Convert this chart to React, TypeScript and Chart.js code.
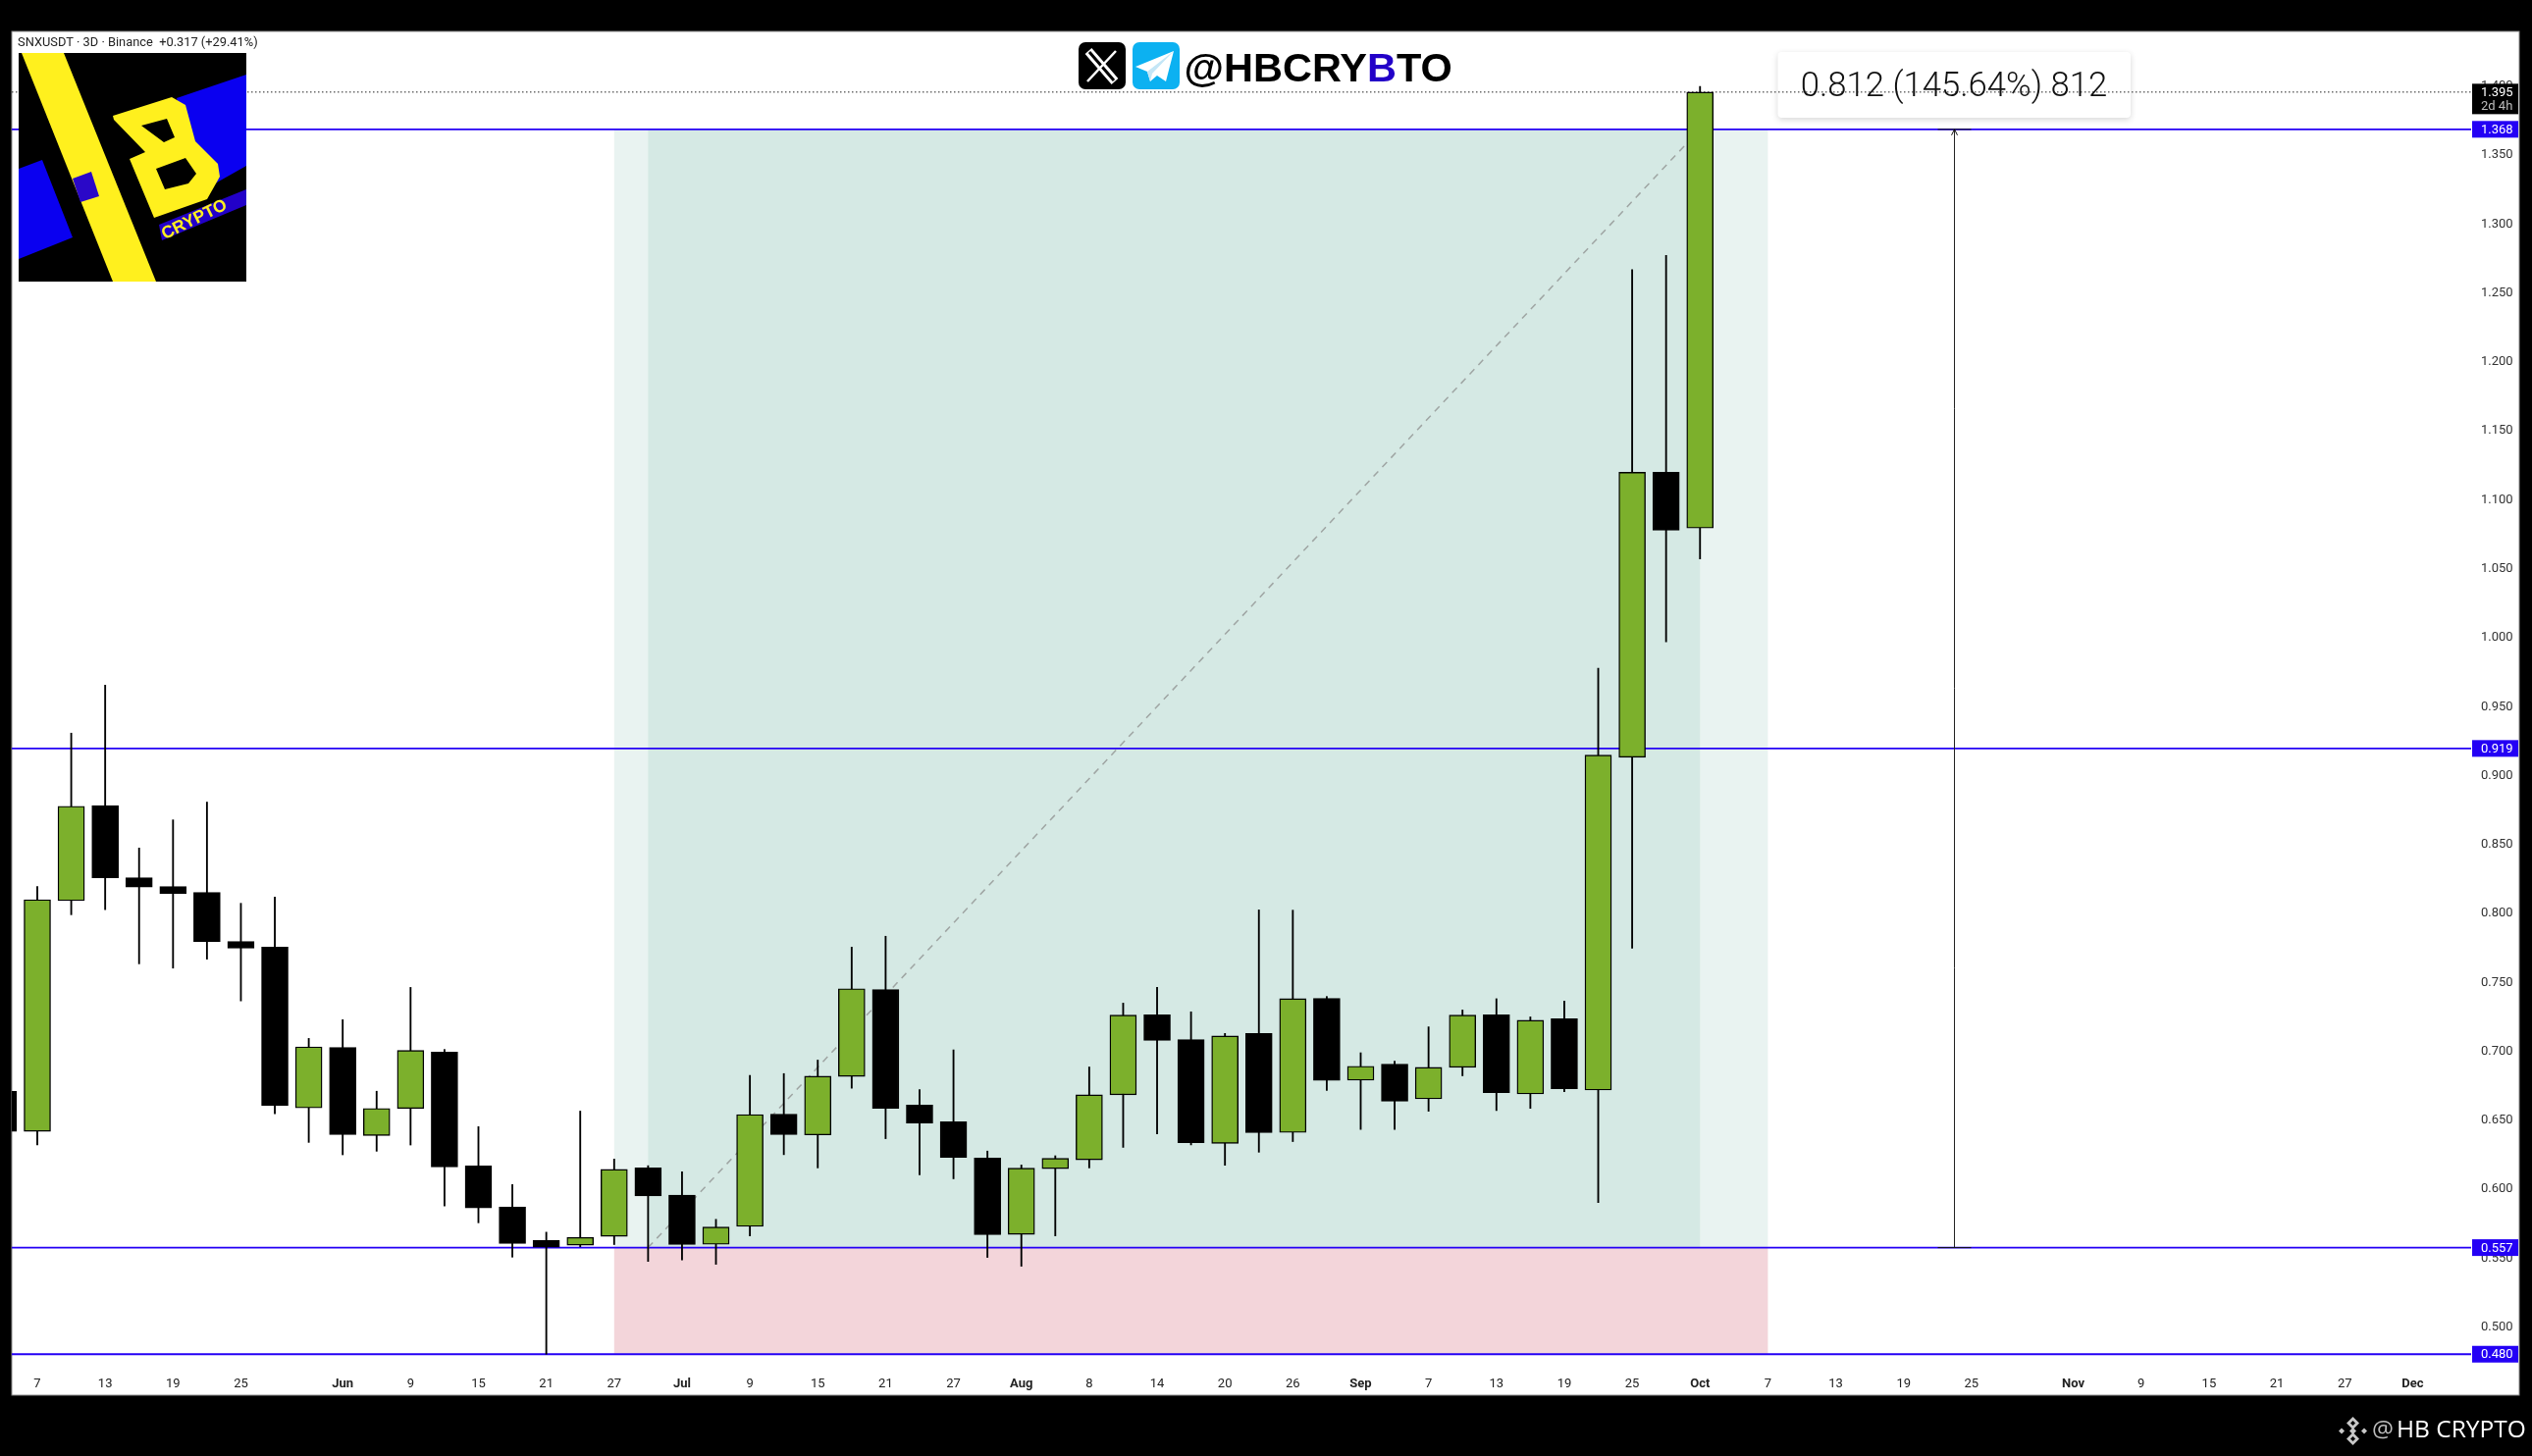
import React, { useEffect, useRef } from "react";
import { Chart, registerables } from "chart.js";

Chart.register(...registerables);

// First bar sits just outside the left edge of the pane, so bar slots start at -1.
const FIRST_SLOT = -1;
const OPENS = [0.6704, 0.6413, 0.8086, 0.8775, 0.8252, 0.8188, 0.8146, 0.779, 0.7749, 0.6583, 0.7022, 0.6383, 0.6579, 0.6988, 0.6163, 0.5864, 0.5622, 0.5588, 0.5652, 0.6148, 0.595, 0.5594, 0.5724, 0.6538, 0.6387, 0.6811, 0.7442, 0.6604, 0.6482, 0.622, 0.5666, 0.6143, 0.6207, 0.6678, 0.7259, 0.7078, 0.6326, 0.7123, 0.6405, 0.7378, 0.6784, 0.6901, 0.6649, 0.6877, 0.7259, 0.6684, 0.723, 0.6713, 0.9126, 1.1193, 1.0788];
const HIGHS = [0.6704, 0.8188, 0.9301, 0.9649, 0.8468, 0.8672, 0.8801, 0.8067, 0.8112, 0.7087, 0.7223, 0.6704, 0.7457, 0.7007, 0.6447, 0.6027, 0.5682, 0.656, 0.6212, 0.6164, 0.6119, 0.5775, 0.6819, 0.6832, 0.693, 0.7749, 0.7828, 0.6715, 0.7004, 0.627, 0.6169, 0.6236, 0.688, 0.7343, 0.7457, 0.728, 0.7123, 0.8019, 0.8017, 0.7391, 0.6983, 0.6922, 0.7171, 0.7293, 0.7375, 0.7243, 0.7357, 0.9771, 1.2663, 1.2765, 1.3991];
const LOWS = [0.6413, 0.6314, 0.7984, 0.8021, 0.7628, 0.7597, 0.7662, 0.7359, 0.6541, 0.6333, 0.6243, 0.6269, 0.6314, 0.5872, 0.575, 0.5501, 0.4797, 0.5576, 0.5592, 0.547, 0.548, 0.5449, 0.5655, 0.6244, 0.6148, 0.6726, 0.636, 0.6098, 0.6069, 0.5499, 0.5435, 0.5655, 0.6148, 0.6297, 0.6395, 0.6315, 0.6167, 0.6262, 0.6339, 0.671, 0.6427, 0.6427, 0.6559, 0.6816, 0.6564, 0.658, 0.67, 0.5897, 0.7741, 0.9963, 1.0564];
const CLOSES = [0.6413, 0.8093, 0.8771, 0.8252, 0.8184, 0.8139, 0.779, 0.7741, 0.6602, 0.7026, 0.639, 0.6579, 0.7, 0.6155, 0.5857, 0.5599, 0.5573, 0.5644, 0.6137, 0.5944, 0.5592, 0.5719, 0.6535, 0.6389, 0.6813, 0.7447, 0.658, 0.6474, 0.6225, 0.5663, 0.6146, 0.6217, 0.6678, 0.7256, 0.7073, 0.6331, 0.7105, 0.6403, 0.7375, 0.6782, 0.6885, 0.6631, 0.6877, 0.7256, 0.6694, 0.7219, 0.6723, 0.9142, 1.1193, 1.0772, 1.395];

const TIME_LABELS = ["7", "13", "19", "25", "Jun", "9", "15", "21", "27", "Jul", "9", "15", "21", "27", "Aug", "8", "14", "20", "26", "Sep", "7", "13", "19", "25", "Oct", "7", "13", "19", "25", "Nov", "9", "15", "21", "27", "Dec"];
const TIME_SLOTS = [0, 2, 4, 6, 9, 11, 13, 15, 17, 19, 21, 23, 25, 27, 29, 31, 33, 35, 37, 39, 41, 43, 45, 47, 49, 51, 53, 55, 57, 60, 62, 64, 66, 68, 70];
const MONTHS = ["Jun", "Jul", "Aug", "Sep", "Oct", "Nov", "Dec"];
const PRICE_TICKS = [0.5, 0.55, 0.6, 0.65, 0.7, 0.75, 0.8, 0.85, 0.9, 0.95, 1.0, 1.05, 1.1, 1.15, 1.2, 1.25, 1.3, 1.35, 1.4];

const LEVELS = [1.368, 0.919, 0.557, 0.4797];
const LAST_PRICE = 1.395;
const ENTRY = 0.557;
const STOP = 0.4797;
const TARGET = 1.368;
const ZONE_START = 17;
const ZONE_END = 51;
const INNER_START = 18;
const INNER_END = 49;
const RULER_SLOT = 56.4985;

const TITLE = "SNXUSDT · 3D · Binance  +0.317 (+29.41%)";
const MEASURE = "0.812 (145.64%) 812";
const COUNTDOWN = "2d 4h";

const X_MIN = -0.752;
const X_MAX = 71.725;
const Y_MIN = 0.4692;
const Y_MAX = 1.4383;

const UI = "Roboto";
const BLUE = "#2400f5";
const GREEN = "#7cb02c";

type Pt = [number, number];
function poly(ctx: any, pts: Pt[]) {
  ctx.moveTo(pts[0][0], pts[0][1]);
  pts.slice(1).forEach((p) => ctx.lineTo(p[0], p[1]));
  ctx.closePath();
}
function fillPoly(ctx: any, pts: Pt[], color: string) {
  ctx.beginPath();
  poly(ctx, pts);
  ctx.fillStyle = color;
  ctx.fill();
}

function drawLogo(ctx: any) {
  ctx.fillStyle = "#000";
  ctx.fillRect(19, 54, 232, 233);
  ctx.save();
  ctx.beginPath();
  ctx.rect(19, 54, 232, 233);
  ctx.clip();
  fillPoly(ctx, [[251, 76], [251, 169], [205, 195], [180, 100]], "#0a00f0");
  fillPoly(ctx, [[19, 172], [43, 163], [74, 242], [19, 264]], "#0a00f0");
  fillPoly(ctx, [[22, 54], [65, 54], [159, 287], [115, 287]], "#fff01e");
  fillPoly(ctx, [[74, 182], [93, 175], [101, 200], [82, 206]], "#2a08c8");
  fillPoly(ctx, [[162, 229], [251, 193], [251, 209], [165, 245]], "#2200c8");
  ctx.beginPath();
  poly(ctx, [[115, 118], [175, 99], [189, 107], [199, 144], [222, 167], [224, 180], [211, 203], [157, 222], [132, 162], [148, 155], [116, 122]]);
  poly(ctx, [[144, 128], [170, 121], [178, 140], [167, 145]]);
  poly(ctx, [[159, 172], [189, 161], [200, 177], [192, 187], [168, 193]]);
  ctx.fillStyle = "#fff01e";
  ctx.fill("evenodd");
  ctx.translate(198, 224);
  ctx.rotate(-0.46);
  ctx.font = "bold 17.5px 'Liberation Sans'";
  ctx.textAlign = "center";
  ctx.textBaseline = "middle";
  ctx.fillStyle = "#fff01e";
  ctx.fillText("CRYPTO", 0, 0);
  ctx.restore();
}

function drawHeader(ctx: any) {
  ctx.fillStyle = "#000";
  ctx.beginPath();
  ctx.roundRect(1099, 43, 48, 48, 7);
  ctx.fill();
  ctx.strokeStyle = "#fff";
  ctx.lineWidth = 9;
  ctx.beginPath();
  ctx.moveTo(1109, 52);
  ctx.lineTo(1136, 83);
  ctx.stroke();
  ctx.strokeStyle = "#000";
  ctx.lineWidth = 3;
  ctx.beginPath();
  ctx.moveTo(1110, 53);
  ctx.lineTo(1135, 82);
  ctx.stroke();
  ctx.strokeStyle = "#fff";
  ctx.lineWidth = 2.5;
  ctx.beginPath();
  ctx.moveTo(1137, 52);
  ctx.lineTo(1108, 83);
  ctx.stroke();

  ctx.fillStyle = "#0cb1f1";
  ctx.beginPath();
  ctx.roundRect(1154, 43, 48, 48, 7);
  ctx.fill();
  fillPoly(ctx, [[1196, 52], [1157, 68], [1169, 73], [1172, 83], [1179, 77], [1188, 83]], "#fff");
  fillPoly(ctx, [[1196, 52], [1169, 73], [1172, 83], [1174, 75]], "#c4e6f6");

  ctx.font = "bold 41.5px 'Liberation Sans'";
  ctx.textAlign = "left";
  ctx.textBaseline = "alphabetic";
  let x = 1206.5;
  const parts: [string, string][] = [["@HBCRY", "#000"], ["B", "#2200c8"], ["TO", "#000"]];
  parts.forEach(([t, c]) => {
    ctx.fillStyle = c;
    ctx.fillText(t, x, 83);
    x += ctx.measureText(t).width;
  });
}

function drawWatermark(ctx: any) {
  const cx = 2397.5;
  const cy = 1458.5;
  const diamond = (dx: number, dy: number, r: number, color: string) =>
    fillPoly(ctx, [[cx + dx, cy + dy - r], [cx + dx + r, cy + dy], [cx + dx, cy + dy + r], [cx + dx - r, cy + dy]], color);
  diamond(0, -8, 6.5, "#c8c8c8");
  diamond(0, 8, 6.5, "#c8c8c8");
  diamond(-11.5, 0, 3, "#c8c8c8");
  diamond(11.5, 0, 3, "#c8c8c8");
  diamond(0, 0, 3.5, "#c8c8c8");
  diamond(0, -8, 2.5, "#000");
  diamond(0, 8, 2.5, "#000");
  ctx.textBaseline = "alphabetic";
  ctx.textAlign = "left";
  ctx.font = "24.5px 'Open Sans'";
  ctx.fillStyle = "#bdbdbd";
  ctx.fillText("@", 2417, 1465);
  ctx.fillStyle = "#fff";
  ctx.fillText("HB CRYPTO", 2442, 1465);
}

const painter = {
  id: "painter",
  beforeDraw(chart: any) {
    const { ctx, width, height } = chart;
    ctx.save();
    ctx.fillStyle = "#000";
    ctx.fillRect(0, 0, width, height);
    ctx.fillStyle = "#fff";
    ctx.fillRect(12, 32, 2555, 1390);
    ctx.strokeStyle = "#8a8a8a";
    ctx.lineWidth = 1;
    ctx.strokeRect(12, 32, 2555, 1390);
    ctx.restore();
    // price labels sit one pixel below their exact level in the reference
    const yScale = chart.scales.y;
    if (!yScale.$nudged) {
      yScale.getLabelItems(chart.chartArea).forEach((it: any) => {
        it.options.translation[1] += 1;
      });
      yScale.$nudged = true;
    }
  },
  beforeDatasetsDraw(chart: any) {
    const { ctx, scales } = chart;
    const { x, y } = scales;
    ctx.save();
    const rect = (a: number, b: number, top: number, bottom: number, color: string) => {
      ctx.fillStyle = color;
      const l = x.getPixelForValue(a);
      const t = y.getPixelForValue(top);
      ctx.fillRect(l, t, x.getPixelForValue(b) - l, y.getPixelForValue(bottom) - t);
    };
    rect(ZONE_START, ZONE_END, TARGET, ENTRY, "#e9f3f1");
    rect(INNER_START, INNER_END, TARGET, ENTRY, "#d5e9e4");
    rect(ZONE_START, ZONE_END, ENTRY, STOP, "#f3d5da");

    // measure box, under the dotted last-price line
    ctx.save();
    ctx.shadowColor = "rgba(0,0,0,0.16)";
    ctx.shadowBlur = 6;
    ctx.shadowOffsetY = 2;
    ctx.fillStyle = "#fff";
    ctx.beginPath();
    ctx.roundRect(1811.5, 53, 359.5, 67, 4);
    ctx.fill();
    ctx.restore();
    ctx.restore();
  },
  afterDatasetsDraw(chart: any) {
    const { ctx, scales } = chart;
    const { x, y } = scales;
    ctx.save();

    // ruler caps and arrow head
    const rx = x.getPixelForValue(RULER_SLOT);
    const ty = y.getPixelForValue(TARGET);
    const by = y.getPixelForValue(ENTRY);
    ctx.strokeStyle = "#111";
    ctx.lineWidth = 1;
    ctx.beginPath();
    ctx.moveTo(rx - 17, ty);
    ctx.lineTo(rx + 17, ty);
    ctx.moveTo(rx - 17, by);
    ctx.lineTo(rx + 17, by);
    ctx.moveTo(rx - 3, ty + 6);
    ctx.lineTo(rx, ty);
    ctx.lineTo(rx + 3, ty + 6);
    ctx.stroke();

    ctx.fillStyle = "#111";
    ctx.font = `300 34.7px ${UI}`;
    ctx.textAlign = "center";
    ctx.textBaseline = "middle";
    ctx.fillText(MEASURE, 1991, 89.5);

    // price tags
    ctx.font = `13px ${UI}`;
    ctx.textAlign = "left";
    const tag = (v: number) => {
      const py = y.getPixelForValue(v);
      ctx.fillStyle = BLUE;
      ctx.fillRect(2519, py - 8.5, 47, 17);
      ctx.fillStyle = "#fff";
      ctx.fillText(v.toFixed(3), 2528, py + 1);
    };
    LEVELS.forEach(tag);
    const lp = y.getPixelForValue(LAST_PRICE);
    ctx.fillStyle = "#000";
    ctx.fillRect(2519, lp - 8.5, 47, 31);
    ctx.fillStyle = "#fff";
    ctx.fillText(LAST_PRICE.toFixed(3), 2528, lp + 1);
    ctx.fillStyle = "#bcbcbc";
    ctx.fillText(COUNTDOWN, 2528, lp + 15);

    drawLogo(ctx);
    drawHeader(ctx);

    ctx.font = `12.85px ${UI}`;
    ctx.textAlign = "left";
    ctx.textBaseline = "middle";
    ctx.fillStyle = "#222";
    ctx.fillText(TITLE, 18, 44);

    drawWatermark(ctx);
    ctx.restore();
  },
};

export default function App() {
  const ref = useRef<HTMLCanvasElement | null>(null);
  useEffect(() => {
    if (!ref.current) return;
    const slots = OPENS.map((_, i) => i + FIRST_SLOT);
    const level = (v: number, width: number) => ({
      type: "line" as const,
      data: [{ x: X_MIN, y: v }, { x: X_MAX, y: v }],
      borderColor: BLUE,
      borderWidth: width,
      pointRadius: 0,
      order: 5,
    });
    const chart = new Chart(ref.current, {
      type: "bar",
      data: {
        datasets: [
          {
            type: "bar",
            label: "Wick",
            data: slots.map((s, i) => ({ x: s, y: [LOWS[i], HIGHS[i]] })),
            backgroundColor: "#000",
            borderWidth: 0,
            barThickness: 1.2,
            grouped: false,
            order: 2,
          },
          {
            type: "bar",
            label: "SNXUSDT",
            data: slots.map((s, i) => ({ x: s, y: [OPENS[i], CLOSES[i]] })),
            backgroundColor: slots.map((_, i) => (CLOSES[i] >= OPENS[i] ? GREEN : "#000")),
            borderColor: "#000",
            borderWidth: 1.4,
            borderSkipped: false,
            barThickness: 27,
            grouped: false,
            order: 1,
          },
          ...LEVELS.map((v) => level(v, 1.8)),
          {
            type: "line",
            data: [{ x: X_MIN, y: LAST_PRICE }, { x: X_MAX, y: LAST_PRICE }],
            borderColor: "#222",
            borderWidth: 1,
            borderDash: [1.5, 2.5],
            pointRadius: 0,
            order: 4,
          },
          {
            type: "line",
            data: [{ x: INNER_START, y: ENTRY }, { x: INNER_END, y: TARGET }],
            borderColor: "#9fa5a3",
            borderWidth: 1.5,
            borderDash: [7, 6],
            pointRadius: 0,
            order: 4,
          },
          {
            type: "line",
            data: [{ x: RULER_SLOT, y: ENTRY }, { x: RULER_SLOT, y: TARGET }],
            borderColor: "#222",
            borderWidth: 1,
            pointRadius: 0,
            order: 3,
          },
        ] as any,
      },
      options: {
        responsive: false,
        animation: false,
        devicePixelRatio: 1,
        layout: { autoPadding: false, padding: { left: 12, top: 33, right: 13, bottom: 62 } },
        plugins: { legend: { display: false }, title: { display: false }, tooltip: { enabled: false } },
        scales: {
          x: {
            type: "linear",
            position: "bottom",
            offset: false,
            min: X_MIN,
            max: X_MAX,
            grid: { display: false, drawTicks: false },
            border: { display: false },
            afterBuildTicks: (s: any) => {
              s.ticks = TIME_SLOTS.map((value) => ({ value }));
            },
            afterFit: (s: any) => {
              s.height = 27;
            },
            ticks: {
              autoSkip: false,
              maxRotation: 0,
              minRotation: 0,
              padding: 8,
              color: "#222",
              font: (c: any) => {
                const t = TIME_LABELS[TIME_SLOTS.indexOf(c.tick?.value)];
                return { family: UI, size: 13, weight: MONTHS.includes(t) ? "bold" : "normal" };
              },
              callback: (v: any) => TIME_LABELS[TIME_SLOTS.indexOf(v)] ?? "",
            },
          },
          y: {
            type: "linear",
            position: "right",
            min: Y_MIN,
            max: Y_MAX,
            grid: { display: false, drawTicks: false },
            border: { display: false },
            afterBuildTicks: (s: any) => {
              s.ticks = PRICE_TICKS.map((value) => ({ value }));
            },
            afterFit: (s: any) => {
              s.width = 49;
            },
            ticks: {
              autoSkip: false,
              padding: 10,
              color: "#333",
              font: { family: UI, size: 13 },
              callback: (v: any) => Number(v).toFixed(3),
            },
          },
        },
      } as any,
      plugins: [painter],
    });
    return () => chart.destroy();
  }, []);
  return (
    <div style={{ position: "fixed", left: 0, top: 0, width: 2580, height: 1484, background: "#000", overflow: "hidden" }}>
      <canvas ref={ref} width={2580} height={1484} style={{ display: "block", width: 2580, height: 1484 }} />
    </div>
  );
}
